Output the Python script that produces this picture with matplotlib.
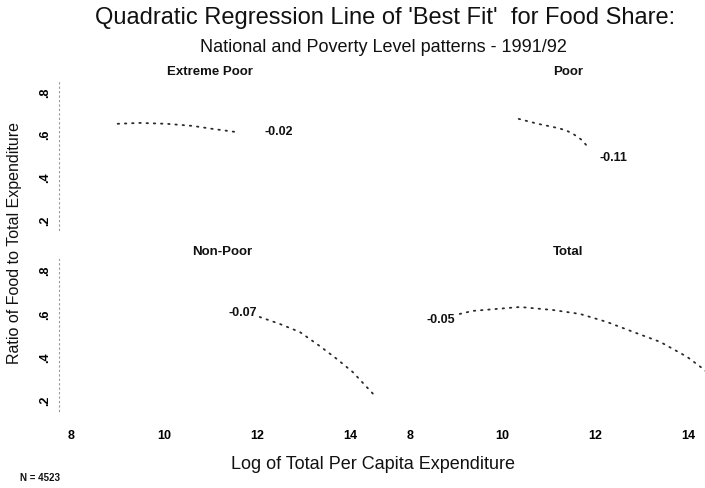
import matplotlib.pyplot as plt

plt.rcParams['font.family'] = ['Liberation Sans', 'DejaVu Sans']

# fitted curves (log per capita expenditure, food share)
ext_x = [9.01, 9.48, 10.06, 10.62, 11.05, 11.53]
ext_y = [0.649, 0.653, 0.649, 0.639, 0.625, 0.611]

poor_x = [10.35, 10.76, 11.09, 11.35, 11.52, 11.71, 11.82]
poor_y = [0.672, 0.649, 0.634, 0.620, 0.602, 0.573, 0.545]

nonpoor_x = [12.06, 12.49, 12.92, 13.35, 13.72, 14.06, 14.52]
nonpoor_y = [0.583, 0.551, 0.514, 0.449, 0.389, 0.329, 0.223]

total_x = [9.08, 9.36, 10.38, 11.09, 11.67, 12.25, 12.82, 13.40, 13.98, 14.33, 14.55]
total_y = [0.597, 0.611, 0.629, 0.615, 0.597, 0.560, 0.514, 0.468, 0.399, 0.343, 0.300]

panel_titles = ['Extreme Poor', 'Poor', 'Non-Poor', 'Total']
coef_labels = ['-0.02', '-0.11', '-0.07', '-0.05']
xticks = [8, 10, 12, 14]
yticks = [0.2, 0.4, 0.6, 0.8]
ytick_labels = ['.2', '.4', '.6', '.8']

fig = plt.figure(figsize=(7.05, 4.89), dpi=100)

W, H = 705, 489
def box(x0, x1, ytop, ybot):
    return [x0 / W, 1 - ybot / H, (x1 - x0) / W, (ybot - ytop) / H]

axes = [fig.add_axes(box(59, 378, 82, 231)),
        fig.add_axes(box(398, 716, 82, 231)),
        fig.add_axes(box(59, 378, 260, 412)),
        fig.add_axes(box(398, 716, 260, 412))]

data = [(ext_x, ext_y), (poor_x, poor_y), (nonpoor_x, nonpoor_y), (total_x, total_y)]
# (x, y, ha) of the coefficient label, in data units
coef_pos = [(12.17, 0.616, 'left'), (12.1, 0.493, 'left'),
            (12.0, 0.606, 'right'), (8.97, 0.574, 'right')]
title_pos = [(0.473, 1.027), (0.535, 1.027), (0.51, 1.013), (0.535, 1.013)]

for i, ax in enumerate(axes):
    x, y = data[i]
    ax.plot(x, y, color='#2a2a2a', lw=1.3, linestyle=(0, (0.8, 3.2)),
            dash_capstyle='round')
    ax.set_xlim(7.75, 14.6)
    ax.set_ylim(0.15, 0.85)
    for s in ax.spines.values():
        s.set_visible(False)
    ax.text(title_pos[i][0], title_pos[i][1], panel_titles[i], transform=ax.transAxes,
            ha='center', va='bottom', fontsize=9.5, fontweight='bold', color='#111111')
    cx, cy, ha = coef_pos[i]
    ax.text(cx, cy, coef_labels[i], ha=ha, va='center', fontsize=9,
            fontweight='bold', color='#111111')
    ax.tick_params(length=0)
    if i >= 2:
        ax.set_xticks(xticks)
        ax.set_xticklabels([str(t) for t in xticks], fontsize=9, fontweight='bold')
        ax.tick_params(axis='x', pad=13)
    else:
        ax.set_xticks([])
    if i % 2 == 0:
        ax.spines['left'].set_visible(True)
        ax.spines['left'].set_linestyle((0, (1, 3)))
        ax.spines['left'].set_color('#999999')
        ax.set_yticks(yticks)
        ax.set_yticklabels(ytick_labels, fontsize=9, fontweight='bold',
                           rotation=90, va='center')
        ax.tick_params(axis='y', pad=6)
    else:
        ax.set_yticks([])

fig.text(385 / W, 1 - 18 / H, "Quadratic Regression Line of 'Best Fit'  for Food Share:",
         ha='center', va='center', fontsize=17, color='#111111')
fig.text(383 / W, 1 - 47 / H, 'National and Poverty Level patterns - 1991/92',
         ha='center', va='center', fontsize=13, color='#111111')
fig.text(373 / W, 1 - 465 / H, 'Log of Total Per Capita Expenditure',
         ha='center', va='center', fontsize=13, color='#111111')
fig.text(15 / W, 1 - 243 / H, 'Ratio of Food to Total Expenditure',
         ha='center', va='center', rotation=90, fontsize=11.5, color='#111111')
fig.text(20 / W, 1 - 478 / H, 'N = 4523', ha='left', va='center',
         fontsize=7, fontweight='bold', color='#111111')

fig.savefig('out.png', dpi=100)
